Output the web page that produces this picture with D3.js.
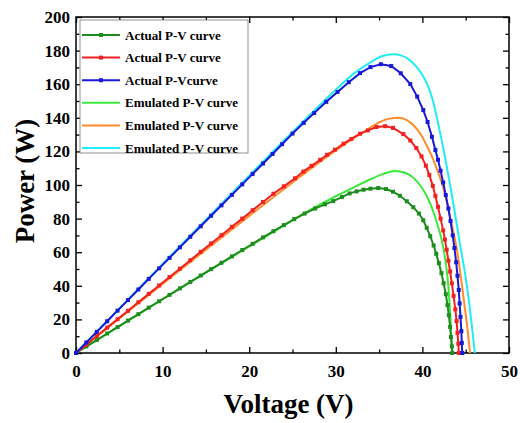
<!DOCTYPE html>
<html>
<head>
<meta charset="utf-8">
<script src="https://cdn.jsdelivr.net/npm/d3@7"></script>
<style>
  body { margin: 0; background: #fff; }
  text { font-family: "Times New Roman", "Liberation Serif", serif; font-weight: bold; }
</style>
</head>
<body>
<div id="chart"></div>
<script>
// Actual P-V curves (with markers)
var actGreenV = [0, 1.2, 2.4, 3.6, 4.8, 6.0, 7.2, 8.4, 9.6, 10.8, 12.0, 13.2, 14.4, 15.6, 16.8, 18.0, 19.2, 20.4, 21.6, 22.8, 24.0, 25.2, 26.4, 27.6, 28.75, 29.7, 30.7, 31.6, 32.4, 33.2, 34.0, 34.9, 35.8, 36.6, 37.4, 38.2, 38.95, 39.6, 40.1, 40.5, 40.9, 41.3, 41.6, 41.9, 42.2, 42.45, 42.7, 42.9, 43.05, 43.2, 43.3, 43.4, 43.45];
var actGreenP = [0, 3.9, 7.7, 11.6, 15.4, 19.3, 23.1, 27.0, 30.8, 34.6, 38.5, 42.3, 46.1, 49.9, 53.7, 57.5, 61.3, 65.0, 68.8, 72.5, 76.1, 79.7, 83.0, 86.0, 88.5, 90.4, 92.8, 95.0, 96.2, 97.2, 97.8, 98.2, 97.6, 96.0, 93.6, 90.3, 86.8, 83.0, 79.0, 74.5, 69.5, 64.0, 59.0, 53.5, 47.5, 41.5, 35.0, 28.5, 22.5, 15.5, 9.5, 4.0, 0];

var actRedV = [0, 1.2, 2.4, 3.6, 4.8, 6.0, 7.2, 8.4, 9.6, 10.8, 12.0, 13.2, 14.4, 15.6, 16.8, 18.0, 19.2, 20.4, 21.6, 22.8, 24.0, 25.3, 26.25, 27.2, 28.2, 29.0, 29.9, 30.9, 31.8, 32.8, 33.7, 34.7, 35.7, 36.6, 37.8, 38.6, 39.3, 39.9, 40.4, 40.8, 41.2, 41.5, 41.8, 42.1, 42.4, 42.6, 42.8, 43.0, 43.2, 43.4, 43.6, 43.8, 43.95, 44.05, 44.15, 44.2];
var actRedP = [0, 5.0, 10.1, 15.1, 20.1, 25.1, 30.2, 35.2, 40.2, 45.2, 50.2, 55.2, 60.2, 65.2, 70.1, 75.1, 80.0, 85.0, 89.9, 94.8, 99.2, 104.0, 108.0, 111.4, 115.0, 118.0, 121.0, 124.6, 127.4, 130.5, 132.5, 134.5, 135.0, 134.0, 130.3, 126.5, 122.0, 117.0, 111.5, 106.0, 99.5, 93.5, 87.0, 80.0, 73.0, 67.5, 61.5, 55.0, 48.5, 41.5, 34.0, 26.0, 19.0, 12.0, 5.5, 0];

var actBlueV = [0, 1.2, 2.4, 3.6, 4.8, 6.0, 7.2, 8.4, 9.6, 10.8, 12.0, 13.2, 14.4, 15.6, 16.8, 18.0, 19.2, 20.4, 21.6, 22.7, 23.8, 25.0, 26.3, 27.5, 28.9, 30.2, 31.5, 32.8, 34.0, 35.2, 36.4, 37.5, 38.6, 39.4, 40.1, 40.6, 41.1, 41.5, 41.8, 42.1, 42.4, 42.7, 43.0, 43.25, 43.5, 43.7, 43.9, 44.05, 44.2, 44.3, 44.4, 44.5, 44.55, 44.6];
var actBlueP = [0, 6.3, 12.6, 18.9, 25.2, 31.5, 37.8, 44.1, 50.4, 56.6, 62.9, 69.2, 75.4, 81.7, 87.9, 94.1, 100.4, 106.6, 112.8, 118.5, 124.3, 130.6, 137.0, 142.8, 149.5, 155.4, 161.2, 166.6, 170.2, 171.9, 170.8, 166.5, 160.1, 152.6, 144.6, 137.5, 128.7, 120.8, 115.0, 108.5, 101.5, 94.0, 86.0, 78.5, 70.0, 62.5, 54.0, 46.0, 37.5, 29.5, 21.5, 13.0, 6.0, 0];

// Emulated P-V curves (lines only)
var emuGreenV = [0, 5, 10, 15, 20, 24, 27, 30, 32, 34, 35.5, 36.8, 38.0, 39.0, 39.7, 40.4, 40.9, 41.4, 41.8, 42.2, 42.6, 42.9, 43.1, 43.25, 43.35, 43.42];
var emuGreenP = [0, 16.0, 32.0, 47.8, 63.4, 75.8, 85.0, 93.3, 98.4, 103.4, 106.6, 108.4, 107.3, 104.1, 100.0, 94.5, 89.0, 82.0, 75.5, 68.0, 57.0, 45.0, 33.0, 20.0, 9.0, 0];

var emuOrangeV = [0, 5, 10, 15, 20, 25, 28, 30, 32, 33.5, 35, 36.2, 37.2, 38.2, 39, 39.8, 40.5, 41.1, 41.7, 42.4, 43.2, 44.0, 44.5, 45.0, 45.3, 45.5];
var emuOrangeP = [0, 20.6, 41.1, 61.5, 81.6, 101.5, 113.2, 120.6, 127.6, 132.6, 137.3, 139.5, 140.0, 138.6, 135.4, 130.2, 123.5, 117.0, 109.0, 98.5, 81.0, 61.0, 43.0, 23.0, 10.0, 0];

var emuCyanV = [0, 5, 10, 15, 20, 24, 28, 30, 32, 34, 35.3, 36.6, 37.6, 38.5, 39.3, 40.0, 40.6, 41.2, 41.8, 42.6, 43.2, 43.8, 44.3, 44.9, 45.4, 45.8, 46.05];
var emuCyanP = [0, 26.5, 53.0, 79.4, 105.6, 126.4, 146.8, 156.7, 166.0, 173.0, 176.6, 177.8, 177.0, 174.5, 170.5, 165.5, 159.5, 150.5, 137.0, 117.0, 100.0, 82.0, 66.0, 48.0, 30.0, 12.0, 0];

var legendLabels = ["Actual P-V curve", "Actual P-V curve", "Actual P-Vcurve",
                    "Emulated P-V curve", "Emulated P-V curve", "Emulated P-V curve"];
var xTicks = [0, 10, 20, 30, 40, 50];
var yTicks = [0, 20, 40, 60, 80, 100, 120, 140, 160, 180, 200];

var series = [
  {v: actGreenV, p: actGreenP, color: "#1e8c1e", marker: true},
  {v: actRedV, p: actRedP, color: "#f41f1f", marker: true},
  {v: actBlueV, p: actBlueP, color: "#1818d8", marker: true},
  {v: emuGreenV, p: emuGreenP, color: "#3ce83c", marker: false},
  {v: emuOrangeV, p: emuOrangeP, color: "#ff8c2a", marker: false},
  {v: emuCyanV, p: emuCyanP, color: "#22ecf6", marker: false}
];

var margin = {top: 17, right: 11, bottom: 70, left: 76},
    width = 520 - margin.left - margin.right,
    height = 423 - margin.top - margin.bottom;

var svg = d3.select("#chart")
    .append("svg")
      .attr("width", 520)
      .attr("height", 423)
    .append("g")
      .attr("transform", "translate(" + margin.left + "," + margin.top + ")");

var xScale = d3.scaleLinear().domain([0, 50]).range([0, width]);
var yScale = d3.scaleLinear().domain([0, 200]).range([height, 0]);

// axes with inward ticks
function styleAxis(g) {
  g.select(".domain").remove();
  g.selectAll("line").attr("stroke", "#000").attr("stroke-width", 1.3);
  g.selectAll("text").attr("font-size", "17px").attr("fill", "#000")
    .attr("font-family", "'Times New Roman', 'Liberation Serif', serif");
}

svg.append("g")
    .attr("transform", "translate(0," + height + ")")
    .call(d3.axisBottom(xScale).tickValues(xTicks).tickSize(-6).tickPadding(12))
    .call(styleAxis);
svg.append("g")
    .attr("transform", "translate(0," + height + ")")
    .call(d3.axisBottom(xScale).tickValues([5, 15, 25, 35, 45]).tickSize(-3.5).tickFormat(""))
    .call(styleAxis);
svg.append("g")
    .call(d3.axisTop(xScale).tickValues(xTicks).tickSize(-6).tickFormat(""))
    .call(styleAxis);
svg.append("g")
    .call(d3.axisTop(xScale).tickValues([5, 15, 25, 35, 45]).tickSize(-3.5).tickFormat(""))
    .call(styleAxis);

svg.append("g")
    .call(d3.axisLeft(yScale).tickValues(yTicks).tickSize(-6).tickPadding(6))
    .call(styleAxis);
svg.append("g")
    .call(d3.axisLeft(yScale).tickValues(d3.range(10, 200, 20)).tickSize(-3.5).tickFormat(""))
    .call(styleAxis);
svg.append("g")
    .attr("transform", "translate(" + width + ",0)")
    .call(d3.axisRight(yScale).tickValues(yTicks).tickSize(-6).tickFormat(""))
    .call(styleAxis);
svg.append("g")
    .attr("transform", "translate(" + width + ",0)")
    .call(d3.axisRight(yScale).tickValues(d3.range(10, 200, 20)).tickSize(-3.5).tickFormat(""))
    .call(styleAxis);

// frame
svg.append("rect")
    .attr("width", width)
    .attr("height", height)
    .attr("fill", "none")
    .attr("stroke", "#000")
    .attr("stroke-width", 1.5);

// curves: emulated first, actual on top
var drawOrder = [3, 4, 5, 0, 1, 2];
drawOrder.forEach(function(i) {
  var s = series[i];
  var pts = s.v.map(function(v, k) { return [v, s.p[k]]; });
  var line = d3.line()
      .x(function(d) { return xScale(d[0]); })
      .y(function(d) { return yScale(d[1]); })
      .curve(s.marker ? d3.curveLinear : d3.curveMonotoneX);
  svg.append("path")
      .datum(pts)
      .attr("d", line)
      .attr("fill", "none")
      .attr("stroke", s.color)
      .attr("stroke-width", 2);
  if (s.marker) {
    svg.append("g")
      .selectAll("rect")
      .data(pts)
      .enter()
      .append("rect")
        .attr("x", function(d) { return xScale(d[0]) - 2; })
        .attr("y", function(d) { return yScale(d[1]) - 2; })
        .attr("width", 4)
        .attr("height", 4)
        .attr("fill", s.color);
  }
});

// legend
var legend = svg.append("g").attr("transform", "translate(4,3)");
legend.append("rect")
    .attr("width", 168)
    .attr("height", 133)
    .attr("fill", "#fff")
    .attr("stroke", "#777")
    .attr("stroke-width", 0.8);
legendLabels.forEach(function(label, i) {
  var s = series[i];
  var y = 15 + i * 22.6;
  legend.append("line")
      .attr("x1", 2).attr("x2", 40)
      .attr("y1", y).attr("y2", y)
      .attr("stroke", s.color)
      .attr("stroke-width", 2);
  if (s.marker) {
    legend.append("rect")
        .attr("x", 19).attr("y", y - 2)
        .attr("width", 4).attr("height", 4)
        .attr("fill", s.color);
  }
  legend.append("text")
      .attr("x", 45)
      .attr("y", y + 4.5)
      .attr("font-size", "13px")
      .attr("fill", "#000")
      .text(label);
});

// axis titles
svg.append("text")
    .attr("x", width / 2 - 4)
    .attr("y", height + 60)
    .attr("text-anchor", "middle")
    .attr("font-size", "27px")
    .attr("fill", "#000")
    .text("Voltage (V)");

svg.append("text")
    .attr("transform", "rotate(-90)")
    .attr("x", -(height / 2) + 4)
    .attr("y", -margin.left + 34)
    .attr("text-anchor", "middle")
    .attr("font-size", "27px")
    .attr("fill", "#000")
    .text("Power (W)");
</script>
</body>
</html>
